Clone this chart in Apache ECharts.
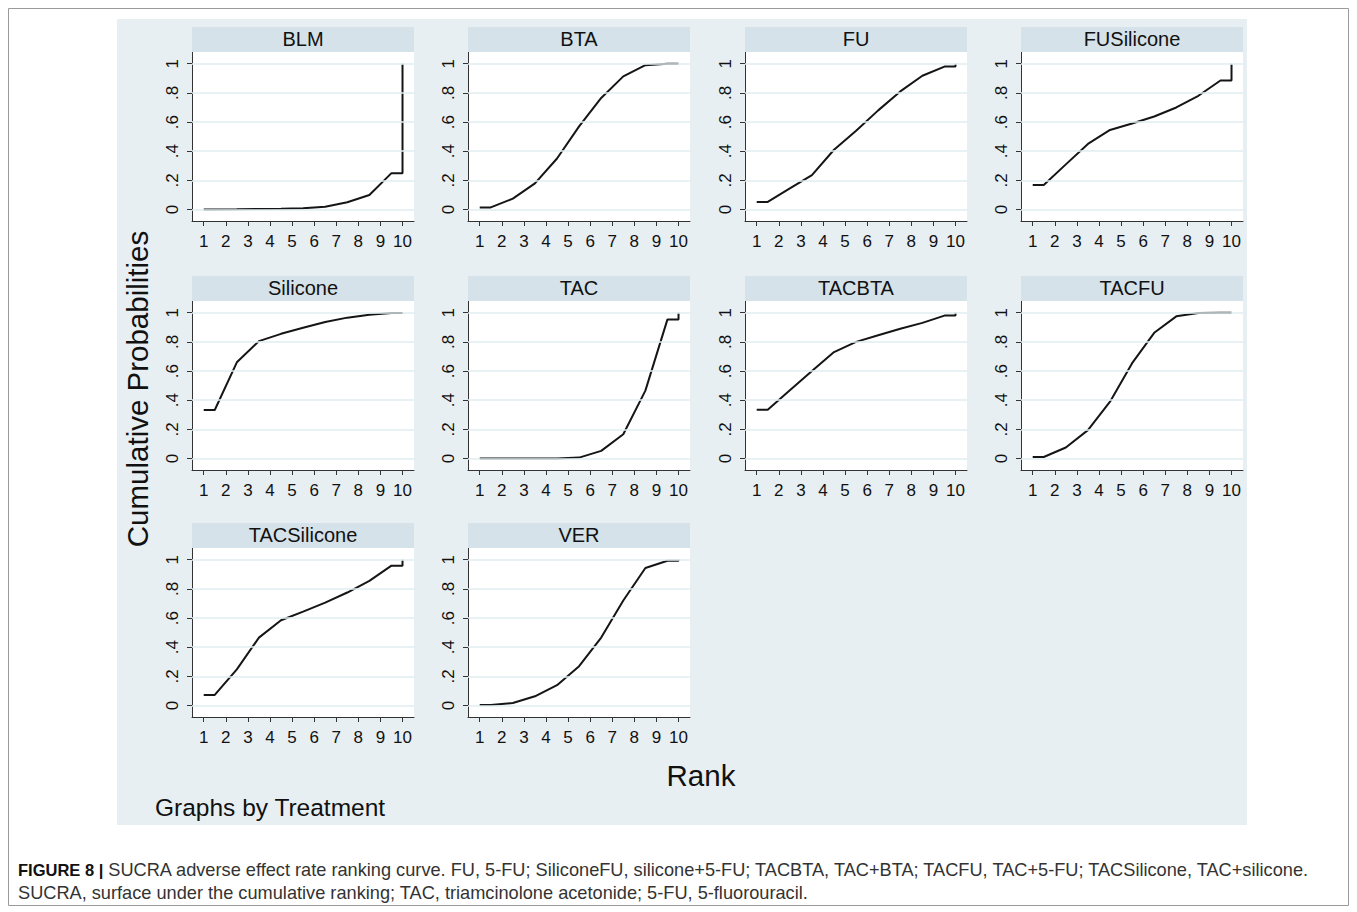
<!DOCTYPE html>
<html><head><meta charset="utf-8">
<script src="https://cdn.jsdelivr.net/npm/echarts@6/dist/echarts.min.js"></script>
<style>html,body{margin:0;padding:0;background:#fff}#c{width:1357px;height:912px}</style>
</head><body><div id="c"></div>
<script>
// ---- data ----
const treatments = ['BLM','BTA','FU','FUSilicone','Silicone','TAC','TACBTA','TACFU','TACSilicone','VER'];
const rankTicks = [1,2,3,4,5,6,7,8,9,10];
const yTicks = [0,0.2,0.4,0.6,0.8,1];
const yTickLabels = ['0','.2','.4','.6','.8','1'];
// cumulative probabilities for ranks 1..10
const BLM         = [0.001,0.002,0.004,0.006,0.01,0.02,0.05,0.10,0.25,1];
const BTA         = [0.015,0.075,0.18,0.35,0.57,0.765,0.913,0.99,0.999,1];
const FU          = [0.053,0.145,0.236,0.41,0.54,0.68,0.81,0.917,0.98,1];
const FUSilicone  = [0.168,0.31,0.45,0.546,0.59,0.638,0.70,0.78,0.885,1];
const Silicone    = [0.333,0.66,0.805,0.855,0.897,0.936,0.966,0.986,0.998,1];
const TAC         = [0.0,0.0,0.0,0.001,0.007,0.053,0.167,0.466,0.954,1];
const TACBTA      = [0.335,0.468,0.60,0.73,0.80,0.845,0.89,0.93,0.98,1];
const TACFU       = [0.011,0.076,0.195,0.39,0.654,0.862,0.975,0.998,1.0,1];
const TACSilicone = [0.073,0.248,0.466,0.585,0.644,0.706,0.775,0.855,0.959,1];
const VER         = [0.005,0.018,0.064,0.14,0.27,0.466,0.72,0.943,0.993,1];
const seriesValues = {BLM, BTA, FU, FUSilicone, Silicone, TAC, TACBTA, TACFU, TACSilicone, VER};

// ---- layout ----
const colLeft = [192, 468, 745, 1021];
const rowTop = [52, 301, 548];
const W = 222, H = 169, HEAD = 25;
const FONT = "'Liberation Sans', Arial, sans-serif";

function curve(vals) {
  const pts = [[rankTicks[0], vals[0]]];
  for (let k = 0; k < 9; k++) pts.push([rankTicks[k] + 0.5, vals[k]]);
  pts.push([rankTicks[9], vals[8]]);
  pts.push([rankTicks[9], vals[9]]);
  return pts;
}
function yLab(v) {
  for (let i = 0; i < yTicks.length; i++) if (Math.abs(v - yTicks[i]) < 1e-9) return yTickLabels[i];
  return '';
}

const grids = [], xAxes = [], yAxes = [], series = [], graphics = [];
graphics.push({type:'rect', z:-100, shape:{x:117, y:19, width:1130, height:806}, style:{fill:'#e8eff3'}});
graphics.push({type:'rect', z:-100, shape:{x:8.5, y:8.5, width:1340, height:897}, style:{fill:'none', stroke:'#9a9a9a', lineWidth:1}});

treatments.forEach((name, i) => {
  const r = Math.floor(i / 4), c = i % 4;
  const left = colLeft[c], top = rowTop[r];
  grids.push({left:left, top:top, width:W, height:H, show:true, backgroundColor:'#ffffff', borderWidth:0, containLabel:false});
  xAxes.push({gridIndex:i, type:'value', min:0.47, max:10.52,
    axisLine:{show:true, onZero:false, lineStyle:{color:'#333', width:1}},
    axisTick:{show:true, length:5, customValues:rankTicks, lineStyle:{color:'#333'}},
    axisLabel:{customValues:rankTicks, fontSize:17, color:'#111', margin:12, fontFamily:FONT},
    splitLine:{show:false}});
  yAxes.push({gridIndex:i, type:'value', min:-0.078, max:1.08,
    axisLine:{show:true, onZero:false, lineStyle:{color:'#333', width:1}},
    axisTick:{show:true, length:5, customValues:yTicks, lineStyle:{color:'#333'}},
    axisLabel:{customValues:yTicks, rotate:90, fontSize:17, color:'#111', margin:11, fontFamily:FONT, formatter:yLab},
    splitLine:{show:false}});
  series.push({type:'line', xAxisIndex:i, yAxisIndex:i, data:[], z:1, silent:true,
    markLine:{silent:true, symbol:['none','none'], label:{show:false}, animation:false,
      lineStyle:{color:'#e1ecf0', width:1.5, type:'solid'},
      data: yTicks.map(v => ({yAxis:v}))}});
  series.push({type:'line', name:name, xAxisIndex:i, yAxisIndex:i, data:curve(seriesValues[name]),
    showSymbol:false, symbol:'none', z:3, silent:true,
    lineStyle:{color:'#151515', width:2}});
  graphics.push({type:'rect', z:5, shape:{x:left, y:top - HEAD, width:W, height:HEAD}, style:{fill:'#d5e2e9'}});
  graphics.push({type:'text', z:6, x:left + W/2, y:top - HEAD/2 - 1,
    style:{text:name, fontSize:20, fontFamily:FONT, fill:'#111', textAlign:'center', textVerticalAlign:'middle'}});
});

graphics.push({type:'text', z:6, x:137, y:389, rotation:Math.PI/2,
  style:{text:'Cumulative Probabilities', fontSize:29.5, fontFamily:FONT, fill:'#111', textAlign:'center', textVerticalAlign:'middle'}});
graphics.push({type:'text', z:6, x:701, y:775,
  style:{text:'Rank', fontSize:29.5, fontFamily:FONT, fill:'#111', textAlign:'center', textVerticalAlign:'middle'}});
graphics.push({type:'text', z:6, x:155, y:807,
  style:{text:'Graphs by Treatment', fontSize:24.5, fontFamily:FONT, fill:'#111', textAlign:'left', textVerticalAlign:'middle'}});
const CAPFONT = "'Liberation Sans', Arial, sans-serif";
graphics.push({type:'text', z:6, x:18, y:870,
  style:{text:'{b|FIGURE 8 |} SUCRA adverse effect rate ranking curve. FU, 5-FU; SiliconeFU, silicone+5-FU; TACBTA, TAC+BTA; TACFU, TAC+5-FU; TACSilicone, TAC+silicone.',
    fontSize:18.2, fontFamily:CAPFONT, fill:'#333', textAlign:'left', textVerticalAlign:'middle',
    rich:{b:{fontWeight:'bold', fontSize:16.5, fill:'#111', fontFamily:CAPFONT}}}});
graphics.push({type:'text', z:6, x:18, y:893,
  style:{text:'SUCRA, surface under the cumulative ranking; TAC, triamcinolone acetonide; 5-FU, 5-fluorouracil.',
    fontSize:18.2, fontFamily:CAPFONT, fill:'#333', textAlign:'left', textVerticalAlign:'middle'}});

const chart = echarts.init(document.getElementById('c'), null, {renderer:'svg', width:1357, height:912});
chart.setOption({
  backgroundColor:'#ffffff',
  animation:false,
  grid:grids, xAxis:xAxes, yAxis:yAxes, series:series, graphic:graphics
});
</script>
</body></html>
